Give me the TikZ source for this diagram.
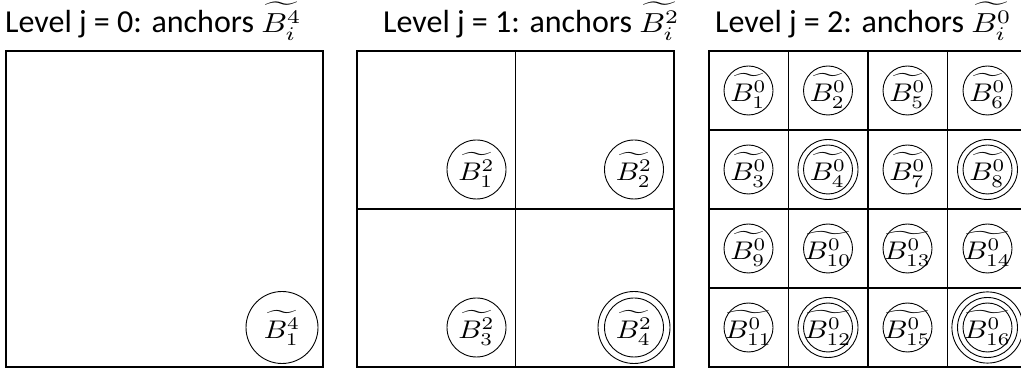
\documentclass[tikz,border=0pt]{standalone}
\usepackage{graphicx}
\usepackage{fontspec}
\setmainfont{Carlito}
\newcommand{\ancm}[1]{\makebox[0pt][c]{\fontsize{10}{12}\selectfont\scalebox{2.9}[2.55]{$#1$}}}
\newcommand{\ttlm}[1]{{\fontsize{10}{12}\selectfont\scalebox{3.2}[2.75]{$#1$}}}
\begin{document}
\begin{tikzpicture}[x=1pt,y=-1pt,
  panel/.style={line width=1.4pt},
  anc/.style={circle,draw,line width=0.9pt,inner sep=0pt},
  ring/.style={line width=0.9pt},
  ttl/.style={anchor=base west,inner sep=0pt,font=\fontsize{32}{38}\selectfont}]
\useasboundingbox (0,0) rectangle (1021,371);
\fill[white] (0,0) rectangle (1021,371);
% titles
\node[ttl] (t1) at (5,33) {Level j = 0: anchors \ttlm{\widetilde{B_i^4}}};
\node[ttl] (t2) at (383,33) {Level j = 1: anchors \ttlm{\widetilde{B_i^2}}};
\node[ttl] (t3) at (715,33) {Level j = 2: anchors \ttlm{\widetilde{B_i^0}}};
% panel 1
\draw[panel] (6,51) rectangle (323,367);
\node[anc,minimum size=72pt] (p1) at (282,327.5) {\ancm{\widetilde{B_1^4}}};
% panel 2
\draw[panel] (357,51) rectangle (674,367);
\draw[panel] (515.5,51) -- (515.5,367);
\draw[panel] (357,209) -- (674,209);
\node[anc,minimum size=59pt] (q1) at (476.5,169.5) {\ancm{\widetilde{B_1^2}}};
\node[anc,minimum size=59pt] (q2) at (634,169.5) {\ancm{\widetilde{B_2^2}}};
\node[anc,minimum size=59pt] (q3) at (476.5,327.5) {\ancm{\widetilde{B_3^2}}};
\node[anc,minimum size=59pt] (q4) at (634,327.5) {\ancm{\widetilde{B_4^2}}};
\draw[ring] (q4.center) circle[radius=36pt];
% panel 3
\draw[panel] (709,51) rectangle (1027,367);
\foreach \xx in {788.5,868,947.5} \draw[panel] (\xx,51) -- (\xx,367);
\foreach \yy in {130,209,288} \draw[panel] (709,\yy) -- (1027,\yy);
\foreach \n/\cx/\cy in {1/748.5/90.5, 2/828/90.5, 5/907.5/90.5, 6/987.5/90.5,
                         3/748.5/169.5, 4/828/169.5, 7/907.5/169.5, 8/987.5/169.5,
                         9/748.5/248.5, 10/828/248.5, 13/907.5/248.5, 14/987.5/248.5,
                         11/748.5/327.5, 12/828/327.5, 15/907.5/327.5, 16/987.5/327.5}
  \node[anc,minimum size=49pt] (r\n) at (\cx,\cy) {\ancm{\widetilde{B_{\n}^0}}};
\foreach \n in {4,8,12,16} \draw[ring] (r\n.center) circle[radius=30pt];
\draw[ring] (r16.center) circle[radius=35.6pt];
\end{tikzpicture}
\end{document}
